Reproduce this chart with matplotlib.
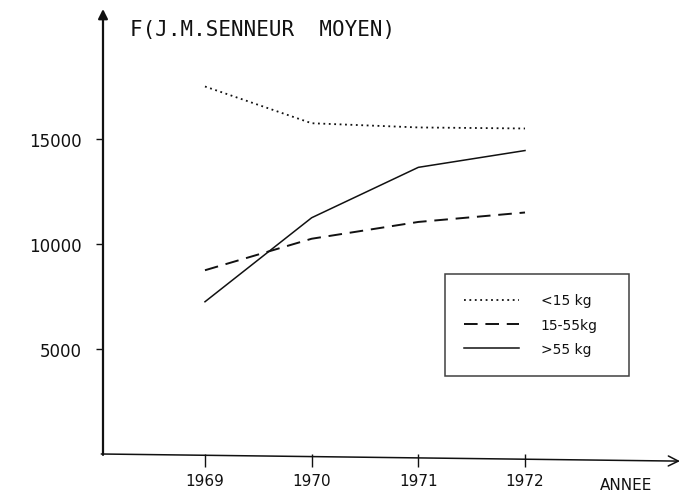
import numpy as np
import matplotlib
matplotlib.use('Agg')
import matplotlib.pyplot as plt

# values
years = [1969, 1970, 1971, 1972]
under_15 = [17500, 15750, 15550, 15500]
mid_15_55 = [8750, 10250, 11050, 11500]
over_55 = [7250, 11250, 13650, 14450]
labels = ['<15 kg', '15-55kg', '>55 kg']
y_ticks = [5000, 10000, 15000]
W, H = 686, 502
INK = '#111111'

fig = plt.figure(figsize=(W / 100, H / 100), dpi=100)
# axes box in pixel terms: x 103..680, y 10..455 (from top)
ax = fig.add_axes([103 / W, (H - 455) / H, (680 - 103) / W, (455 - 10) / H])
ax.set_xlim(1968.044, 1973.453)
ax.set_ylim(0, 21190)

ax.plot(years, under_15, color=INK, lw=1.3, ls=(0, (1, 2)), label=labels[0])
ax.plot(years, mid_15_55, color=INK, lw=1.4, ls=(0, (7, 4)), label=labels[1])
ax.plot(years, over_55, color=INK, lw=1.1, ls='-', label=labels[2])

for s in ax.spines.values():
    s.set_visible(False)

# hand-drawn style axes with arrow heads
ax.annotate('', xy=(0.0, 1.0), xytext=(0.0, -0.002), xycoords='axes fraction',
            arrowprops=dict(arrowstyle='-|>', color=INK, lw=1.6,
                            mutation_scale=14, shrinkA=0, shrinkB=0))
ax.annotate('', xy=(1.0, -0.016), xytext=(-0.003, 0.0), xycoords='axes fraction',
            arrowprops=dict(arrowstyle='->', color=INK, lw=1.1,
                            mutation_scale=18, shrinkA=0, shrinkB=0))

ax.set_yticks(y_ticks)
ax.set_yticklabels([str(v) for v in y_ticks])
ax.set_xticks(years)
ax.set_xticklabels([str(v) for v in years])
ax.tick_params(axis='y', direction='out', length=5, width=1, color=INK,
               labelsize=12, pad=10, labelcolor=INK)
ax.tick_params(axis='x', direction='out', length=9, width=1, color=INK,
               labelsize=11, pad=5, labelcolor=INK)

fig.text(130 / W, 1 - 30 / H, 'F(J.M.SENNEUR  MOYEN)', fontsize=15,
         family='DejaVu Sans Mono', ha='left', va='center', color=INK)
fig.text(652 / W, 1 - 486 / H, 'ANNEE', fontsize=11, ha='right',
         va='center', color=INK)

leg = ax.legend(loc='upper left', mode='expand',
                bbox_to_anchor=(445 / W, 1 - 275 / H, 184 / W, 0),
                bbox_transform=fig.transFigure, fontsize=10, frameon=True,
                fancybox=False, edgecolor=INK, borderpad=1.4, labelspacing=0.75,
                handlelength=3.9, handletextpad=1.6, borderaxespad=0)
leg.get_frame().set_linewidth(1.1)
for t in leg.get_texts():
    t.set_color(INK)

fig.savefig('out.png', dpi=100)
